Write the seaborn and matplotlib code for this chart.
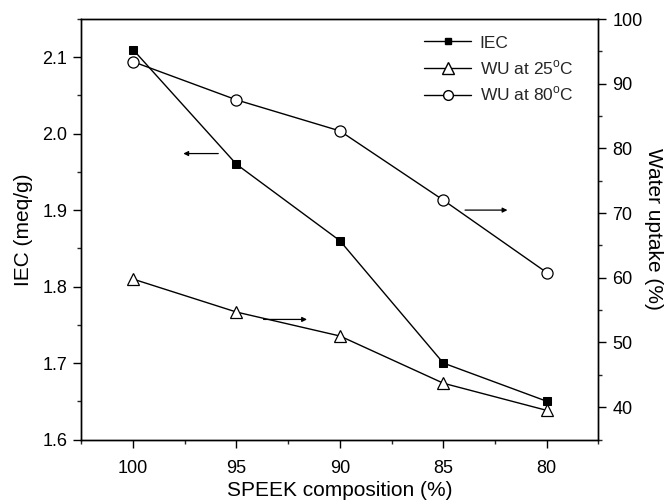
import matplotlib
matplotlib.use("Agg")
import matplotlib.pyplot as plt
from matplotlib.ticker import MultipleLocator
from matplotlib.lines import Line2D
import seaborn as sns
import pandas as pd

sns.set_theme(style="white")
plt.rcParams["font.family"] = ["Liberation Sans", "DejaVu Sans"]

composition = [100, 95, 90, 85, 80]
iec = [2.11, 1.96, 1.86, 1.70, 1.65]
wu_25 = [59.8, 54.7, 51.0, 43.7, 39.5]
wu_80 = [93.4, 87.5, 82.7, 72.0, 60.8]

df = pd.DataFrame({"comp": composition, "iec": iec, "wu25": wu_25, "wu80": wu_80})

fig = plt.figure(figsize=(6.72, 5.0), dpi=100)
ax = fig.add_axes([0.121, 0.121, 0.7696, 0.841])
ax2 = ax.twinx()

line_kw = dict(color="black", linewidth=1.0)
sns.lineplot(data=df, x="comp", y="iec", ax=ax, marker="s", markersize=6,
             markerfacecolor="black", markeredgecolor="black", **line_kw)
sns.lineplot(data=df, x="comp", y="wu25", ax=ax2, marker="^", markersize=9,
             markerfacecolor="white", markeredgecolor="black", markeredgewidth=0.9, **line_kw)
sns.lineplot(data=df, x="comp", y="wu80", ax=ax2, marker="o", markersize=8,
             markerfacecolor="white", markeredgecolor="black", markeredgewidth=0.9, **line_kw)

ax.set_xlim(102.5, 77.5)
ax.set_ylim(1.6, 2.15)
ax2.set_ylim(35, 100)

ax.xaxis.set_major_locator(MultipleLocator(5))
ax.xaxis.set_minor_locator(MultipleLocator(2.5))
ax.yaxis.set_minor_locator(MultipleLocator(0.05))
ax2.yaxis.set_minor_locator(MultipleLocator(5))
ax.set_yticks([1.6, 1.7, 1.8, 1.9, 2.0, 2.1])
ax2.set_yticks([40, 50, 60, 70, 80, 90, 100])
ax.set_xticks(composition)
ax.set_xticklabels([str(c) for c in composition])

for a in (ax, ax2):
    for s in a.spines.values():
        s.set_color("black")
        s.set_linewidth(1.0)
ax.tick_params(axis="both", which="major", direction="out", length=6, width=1,
               labelsize=13, colors="black", bottom=True, left=True, top=False, pad=4)
ax.tick_params(axis="x", which="major", pad=9)
ax.tick_params(axis="both", which="minor", direction="out", length=3, width=1,
               bottom=True, left=True, top=False)
ax2.tick_params(axis="y", which="major", direction="out", length=6, width=1,
                labelsize=13, colors="black", right=True, pad=4)
ax2.tick_params(axis="y", which="minor", direction="out", length=3, width=1, right=True)

ax.set_xlabel("SPEEK composition (%)", fontsize=15, color="black", labelpad=3)
ax.set_ylabel("IEC (meq/g)", fontsize=15, color="black", labelpad=7)
ax2.set_ylabel("Water uptake (%)", fontsize=15, color="black", rotation=-90, labelpad=15)

# arrows pointing each curve to its own axis
arrow_kw = dict(arrowstyle="-|>", color="black", lw=0.9, mutation_scale=7,
                shrinkA=0, shrinkB=0)
ax.annotate("", xy=(97.57, 1.974), xytext=(95.88, 1.974), arrowprops=arrow_kw)
ax2.annotate("", xy=(81.9, 70.46), xytext=(83.95, 70.46), arrowprops=arrow_kw)
ax2.annotate("", xy=(91.59, 53.56), xytext=(93.69, 53.56), arrowprops=arrow_kw)

handles = [
    Line2D([], [], color="black", lw=1, marker="s", markersize=5,
           markerfacecolor="black", markeredgecolor="black"),
    Line2D([], [], color="black", lw=1, marker="^", markersize=8,
           markerfacecolor="white", markeredgecolor="black"),
    Line2D([], [], color="black", lw=1, marker="o", markersize=7,
           markerfacecolor="white", markeredgecolor="black"),
]
labels = ["IEC", "WU at 25$^{\\mathregular{o}}$C", "WU at 80$^{\\mathregular{o}}$C"]
ax.legend(handles, labels, loc="upper left", bbox_to_anchor=(0.663, 0.961),
          frameon=False, fontsize=12.5, handlelength=2.7, handletextpad=0.5,
          labelspacing=0.45, borderpad=0, borderaxespad=0)

fig.savefig("out.png", dpi=100)
